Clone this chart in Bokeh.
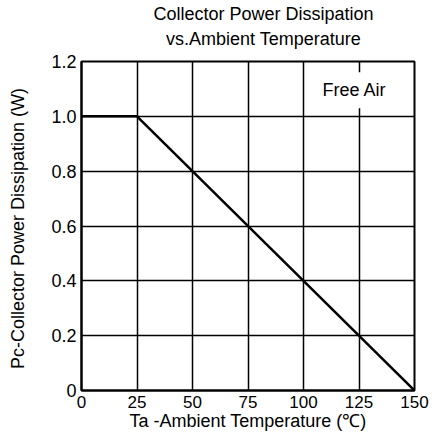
from bokeh.plotting import figure
from bokeh.models import Range1d, FixedTicker, Label, LinearAxis
from bokeh.embed import file_html
from bokeh.resources import INLINE

temps = [0, 25, 150]
power = [1.0, 1.0, 0.0]
x_ticks = [0, 25, 50, 75, 100, 125, 150]
y_ticks = [0, 0.2, 0.4, 0.6, 0.8, 1.0, 1.2]
y_tick_labels = {0: "0", 0.2: "0.2", 0.4: "0.4", 0.6: "0.6", 0.8: "0.8", 1.0: "1.0", 1.2: "1.2"}
title_lines = ["Collector Power Dissipation", "vs.Ambient Temperature"]
note = "Free Air"

FONT = "Liberation Sans"

p = figure(width=432, height=437, output_backend="svg", toolbar_location=None,
           x_range=Range1d(0, 150), y_range=Range1d(0, 1.2),
           min_border_left=81, min_border_right=18, min_border_top=59, min_border_bottom=47)

p.title.visible = False

xa = p.below[0]
ya = p.left[0]
xa.ticker = FixedTicker(ticks=x_ticks)
ya.ticker = FixedTicker(ticks=y_ticks)
ya.major_label_overrides = y_tick_labels

for ax in (xa, ya):
    ax.axis_line_color = "black"
    ax.axis_line_width = 2
    ax.major_tick_out = 0
    ax.major_tick_in = 0
    ax.minor_tick_out = 0
    ax.minor_tick_in = 0
    ax.major_label_text_font = FONT
    ax.major_label_text_color = "black"
    ax.axis_label_text_font = FONT
    ax.axis_label_text_font_size = "18px"
    ax.axis_label_text_font_style = "normal"
    ax.axis_label_text_color = "black"
    ax.major_label_standoff = 5

xa.major_label_text_font_size = "17px"
ya.major_label_text_font_size = "18px"
xa.axis_label_standoff = 0
ya.axis_label_standoff = 20

xa.axis_label = "Ta -Ambient Temperature (\u2103)"
ya.axis_label = "Pc-Collector Power Dissipation  (W)"

# two-line title drawn as label-only axes above the frame (line nearest the frame first)
title_center = 82
title_standoffs = [2, 13]
for t, so in reversed(list(zip(title_lines, title_standoffs))):
    tax = LinearAxis(ticker=FixedTicker(ticks=[title_center]),
                     major_label_overrides={title_center: t})
    tax.axis_line_color = None
    tax.major_tick_line_color = None
    tax.minor_tick_line_color = None
    tax.major_tick_out = 0
    tax.major_tick_in = 0
    tax.minor_tick_out = 0
    tax.minor_tick_in = 0
    tax.major_label_standoff = so
    tax.major_label_text_font = FONT
    tax.major_label_text_font_size = "18px"
    tax.major_label_text_color = "black"
    p.add_layout(tax, "above")

p.xgrid.grid_line_color = "black"
p.ygrid.grid_line_color = "black"
p.xgrid.grid_line_width = 1.5
p.ygrid.grid_line_width = 1.5
p.grid.grid_line_alpha = 1.0

p.outline_line_color = "black"
p.outline_line_width = 2
p.outline_line_alpha = 1.0

p.line(temps, power, line_color="black", line_width=2.5)

p.add_layout(Label(x=123, y=1.095, text=note, text_align="center", text_baseline="middle",
                   text_font=FONT, text_font_size="18px", text_color="black",
                   background_fill_color="white", background_fill_alpha=1.0, padding=8))

open("out.html", "w").write(file_html(p, INLINE))
